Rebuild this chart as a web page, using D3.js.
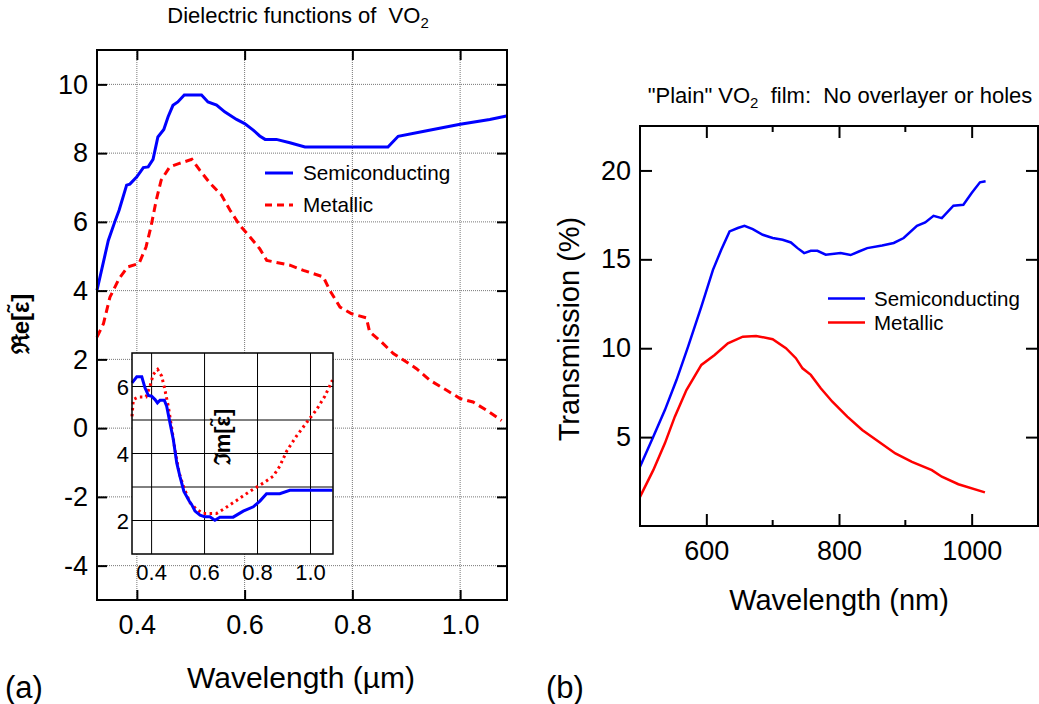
<!DOCTYPE html>
<html>
<head>
<meta charset="utf-8">
<script src="https://cdn.jsdelivr.net/npm/d3@7"></script>
<style>
body { margin: 0; background: #fff; }
text { font-family: "Liberation Sans", Arial, Helvetica, sans-serif; fill: #000; }
</style>
</head>
<body>
<div id="chart"></div>
<script>
// Re[eps] – Halbleiter / Metall  (Wellenlänge in µm)
var reSemi = [[0.326,4.01],[0.347,5.46],[0.359,6.0],[0.367,6.34],[0.381,7.07],[0.387,7.1],[0.400,7.31],
  [0.412,7.58],[0.421,7.6],[0.430,7.82],[0.439,8.47],[0.450,8.69],[0.458,9.06],[0.467,9.39],[0.476,9.49],
  [0.488,9.69],[0.520,9.69],[0.532,9.49],[0.548,9.40],[0.563,9.2],[0.585,8.98],[0.600,8.86],[0.616,8.67],
  [0.628,8.5],[0.638,8.40],[0.659,8.40],[0.684,8.30],[0.712,8.18],[0.866,8.18],[0.885,8.49],[0.938,8.65],
  [1.000,8.84],[1.055,8.98],[1.086,9.08]];
var reMet = [[0.326,2.65],[0.338,3.04],[0.350,3.81],[0.367,4.35],[0.383,4.69],[0.404,4.79],[0.417,5.27],
  [0.426,5.85],[0.436,6.63],[0.445,7.21],[0.461,7.60],[0.479,7.70],[0.502,7.82],[0.517,7.50],[0.536,7.12],
  [0.557,6.78],[0.573,6.34],[0.591,5.90],[0.610,5.56],[0.628,5.22],[0.641,4.88],[0.684,4.74],[0.709,4.59],
  [0.746,4.40],[0.758,4.01],[0.777,3.52],[0.798,3.33],[0.826,3.21],[0.832,2.80],[0.851,2.55],[0.876,2.17],
  [0.894,1.99],[0.919,1.73],[0.944,1.39],[0.975,1.10],[1.000,0.86],[1.024,0.76],[1.049,0.52],[1.077,0.22]];

// Im[eps] fuer das Inset
var imSemi = [[0.326,6.11],[0.344,6.29],[0.363,6.29],[0.375,5.96],[0.388,5.73],[0.400,5.71],[0.413,5.61],
  [0.422,5.51],[0.432,5.59],[0.448,5.59],[0.457,5.41],[0.467,5.01],[0.482,4.42],[0.495,3.72],[0.507,3.32],
  [0.522,2.87],[0.542,2.58],[0.551,2.48],[0.564,2.28],[0.583,2.16],[0.601,2.11],[0.620,2.11],[0.639,2.01],
  [0.658,2.10],[0.708,2.10],[0.746,2.28],[0.784,2.41],[0.809,2.58],[0.834,2.80],[0.884,2.80],[0.922,2.90],
  [1.083,2.90]];
var imMet = [[0.326,5.11],[0.331,5.61],[0.350,5.69],[0.379,5.69],[0.394,6.01],[0.406,6.36],[0.423,6.51],
  [0.438,6.31],[0.450,5.91],[0.463,5.41],[0.475,4.81],[0.488,4.12],[0.504,3.42],[0.522,2.98],[0.545,2.53],
  [0.570,2.33],[0.595,2.21],[0.645,2.21],[0.670,2.33],[0.721,2.60],[0.771,2.87],[0.822,3.12],[0.859,3.32],
  [0.884,3.62],[0.910,4.07],[0.947,4.52],[0.985,4.92],[1.023,5.31],[1.054,5.71],[1.083,6.19]];

// Transmission (%) ueber Wellenlaenge (nm)
var trSemi = [[500,3.33],[520,5.02],[537.5,6.52],[555,8.21],[572.5,10.09],[592.5,12.34],[610,14.41],
  [622.5,15.54],[635,16.57],[647.5,16.76],[657.5,16.89],[670,16.70],[685,16.38],[700,16.20],[715,16.10],
  [727.5,15.95],[737.5,15.63],[747.5,15.35],[757.5,15.48],[767.5,15.48],[780,15.26],[802.5,15.35],
  [817.5,15.24],[830,15.44],[842.5,15.63],[865,15.78],[882.5,15.92],[897.5,16.20],[917.5,16.89],
  [930,17.08],[942.5,17.45],[955,17.32],[972.5,18.02],[987.5,18.07],[1000,18.73],[1012.5,19.33],[1021,19.39]];
var trMet = [[500,1.64],[520,3.14],[537.5,4.65],[552.5,6.15],[570,7.65],[592.5,9.06],[612.5,9.62],
  [632.5,10.28],[655,10.65],[675,10.69],[700,10.51],[720,10.00],[735,9.44],[745,8.87],[757.5,8.50],
  [772.5,7.75],[790,6.99],[812.5,6.15],[835,5.40],[860,4.74],[885,4.08],[910,3.61],[940,3.14],
  [955,2.77],[980,2.35],[1020,1.89]];

var aTicksX = [0.4, 0.6, 0.8, 1.0];
var aTicksY = [-4, -2, 0, 2, 4, 6, 8, 10];
var inTicksY = [2, 4, 6];
var inGridY = [2, 3, 4, 5, 6];
var bTicksX = [600, 800, 1000];
var bMinorX = [700, 900];
var bTicksY = [5, 10, 15, 20];
var legendNames = ["Semiconducting", "Metallic"];

var svg = d3.select("#chart")
    .append("svg")
    .attr("width", 1039)
    .attr("height", 704);

var blue = "#0000ff", red = "#ff0000";

//Achsen mit Ticks nach innen
function axes(g, x, y, tx, ty, fmtX, fmtY, fs, len, pad) {
    var x0 = x.range()[0], x1 = x.range()[1], y0 = y.range()[0], y1 = y.range()[1];
    g.append("g").attr("transform", "translate(0," + y0 + ")")
        .call(d3.axisBottom(x).tickValues(tx).tickSize(-len).tickSizeOuter(0).tickPadding(pad).tickFormat(fmtX));
    g.append("g").attr("transform", "translate(0," + y1 + ")")
        .call(d3.axisTop(x).tickValues(tx).tickSize(-len).tickSizeOuter(0).tickFormat(""));
    g.append("g").attr("transform", "translate(" + x0 + ",0)")
        .call(d3.axisLeft(y).tickValues(ty).tickSize(-len).tickSizeOuter(0).tickPadding(pad - 6).tickFormat(fmtY));
    g.append("g").attr("transform", "translate(" + x1 + ",0)")
        .call(d3.axisRight(y).tickValues(ty).tickSize(-len).tickSizeOuter(0).tickFormat(""));
    g.selectAll(".domain").remove();
    g.selectAll(".tick line").attr("stroke", "#000").attr("stroke-width", 2);
    g.selectAll(".tick text").attr("font-size", fs).attr("font-family", "Liberation Sans, Arial, sans-serif");
    g.append("rect").attr("x", x0).attr("y", y1).attr("width", x1 - x0).attr("height", y0 - y1)
        .attr("fill", "none").attr("stroke", "#000").attr("stroke-width", 2);
}

// ---------- Panel (a) ----------
var xa = d3.scaleLinear().domain([0.326, 1.087]).range([97, 507]);
var ya = d3.scaleLinear().domain([-5, 11]).range([600, 50]);
var gA = svg.append("g");

gA.selectAll(".gx").data(aTicksX).enter().append("line")
    .attr("x1", function(d) { return xa(d); }).attr("x2", function(d) { return xa(d); })
    .attr("y1", 50).attr("y2", 600)
    .attr("stroke", "#777").attr("stroke-width", 1).attr("stroke-dasharray", "1,1");
gA.selectAll(".gy").data(aTicksY).enter().append("line")
    .attr("y1", function(d) { return ya(d); }).attr("y2", function(d) { return ya(d); })
    .attr("x1", 97).attr("x2", 507)
    .attr("stroke", "#777").attr("stroke-width", 1).attr("stroke-dasharray", "1,1");

var lineA = d3.line().x(function(d) { return xa(d[0]); }).y(function(d) { return ya(d[1]); });
gA.append("path").datum(reSemi).attr("d", lineA).attr("fill", "none")
    .attr("stroke", blue).attr("stroke-width", 3);
gA.append("path").datum(reMet).attr("d", lineA).attr("fill", "none")
    .attr("stroke", red).attr("stroke-width", 3).attr("stroke-dasharray", "8,5");

axes(gA, xa, ya, aTicksX, aTicksY, d3.format(".1f"), function(d) { return String(d); }, 27, 10, 15);

// Legende (a)
var legA = gA.selectAll(".legA").data(legendNames).enter().append("g")
    .attr("transform", function(d, i) { return "translate(265," + (173 + i * 32) + ")"; });
legA.append("line").attr("x1", 0).attr("x2", 28)
    .attr("stroke", function(d, i) { return i ? red : blue; })
    .attr("stroke-width", 3)
    .attr("stroke-dasharray", function(d, i) { return i ? "7,5" : null; });
legA.append("text").attr("x", 38).attr("y", 7).attr("font-size", 20.7).text(function(d) { return d; });

// Inset Im[eps]
var xi = d3.scaleLinear().domain([0.326, 1.085]).range([132, 333]);
var yi = d3.scaleLinear().domain([1, 7]).range([554, 353]);
var gI = svg.append("g");
gI.append("rect").attr("x", 132).attr("y", 353).attr("width", 201).attr("height", 201).attr("fill", "#fff");
gI.selectAll(".ix").data(aTicksX).enter().append("line")
    .attr("x1", function(d) { return xi(d); }).attr("x2", function(d) { return xi(d); })
    .attr("y1", 353).attr("y2", 554).attr("stroke", "#000").attr("stroke-width", 1);
gI.selectAll(".iy").data(inGridY).enter().append("line")
    .attr("y1", function(d) { return yi(d); }).attr("y2", function(d) { return yi(d); })
    .attr("x1", 132).attr("x2", 333).attr("stroke", "#000").attr("stroke-width", 1);
var lineI = d3.line().x(function(d) { return xi(d[0]); }).y(function(d) { return yi(d[1]); });
gI.append("path").datum(imMet).attr("d", lineI).attr("fill", "none")
    .attr("stroke", red).attr("stroke-width", 3).attr("stroke-dasharray", "2.5,3.5");
gI.append("path").datum(imSemi).attr("d", lineI).attr("fill", "none")
    .attr("stroke", blue).attr("stroke-width", 3);
gI.append("rect").attr("x", 132).attr("y", 353).attr("width", 201).attr("height", 201)
    .attr("fill", "none").attr("stroke", "#000").attr("stroke-width", 1.5);
gI.selectAll(".itx").data(aTicksX).enter().append("text")
    .attr("x", function(d) { return xi(d); }).attr("y", 580).attr("text-anchor", "middle")
    .attr("font-size", 22).text(d3.format(".1f"));
gI.selectAll(".ity").data(inTicksY).enter().append("text")
    .attr("x", 129).attr("y", function(d) { return yi(d) + 8; }).attr("text-anchor", "end")
    .attr("font-size", 22).text(function(d) { return d; });
gI.append("text").attr("transform", "translate(230,437) rotate(-90)")
    .attr("text-anchor", "middle").attr("font-family", "DejaVu Serif, serif").attr("font-weight", "bold")
    .attr("font-size", 22).text("\u2111m[\u03b5\u0303]");

// Beschriftungen (a)
svg.append("text").attr("x", 298).attr("y", 23).attr("text-anchor", "middle").attr("font-size", 22)
    .style("white-space", "pre")
    .text("Dielectric functions of  VO")
    .append("tspan").attr("font-size", 15).attr("dy", 5).text("2");
svg.append("text").attr("transform", "translate(29,324) rotate(-90)")
    .attr("text-anchor", "middle").attr("font-family", "DejaVu Serif, serif").attr("font-weight", "bold")
    .attr("font-size", 24).text("\u211ce[\u03b5\u0303]");
svg.append("text").attr("x", 301).attr("y", 688).attr("text-anchor", "middle").attr("font-size", 30)
    .text("Wavelength (\u00b5m)");
svg.append("text").attr("x", 5).attr("y", 698).attr("font-size", 31).text("(a)");

// ---------- Panel (b) ----------
var xb = d3.scaleLinear().domain([500, 1100]).range([640, 1038]);
var yb = d3.scaleLinear().domain([0, 22.5]).range([526, 126]);
var gB = svg.append("g");

var lineB = d3.line().x(function(d) { return xb(d[0]); }).y(function(d) { return yb(d[1]); });
gB.append("path").datum(trSemi).attr("d", lineB).attr("fill", "none")
    .attr("stroke", blue).attr("stroke-width", 2.5);
gB.append("path").datum(trMet).attr("d", lineB).attr("fill", "none")
    .attr("stroke", red).attr("stroke-width", 2.5);

axes(gB, xb, yb, bTicksX, bTicksY, function(d) { return String(d); }, function(d) { return String(d); }, 27, 12, 15);
// kleine Ticks bei 700 und 900
gB.selectAll(".mb").data(bMinorX).enter().append("line")
    .attr("x1", function(d) { return xb(d); }).attr("x2", function(d) { return xb(d); })
    .attr("y1", 526).attr("y2", 520).attr("stroke", "#000").attr("stroke-width", 2);
gB.selectAll(".mt").data(bMinorX).enter().append("line")
    .attr("x1", function(d) { return xb(d); }).attr("x2", function(d) { return xb(d); })
    .attr("y1", 126).attr("y2", 132).attr("stroke", "#000").attr("stroke-width", 2);

// Legende (b)
var legB = gB.selectAll(".legB").data(legendNames).enter().append("g")
    .attr("transform", function(d, i) { return "translate(828," + (298.5 + i * 24) + ")"; });
legB.append("line").attr("x1", 0).attr("x2", 37)
    .attr("stroke", function(d, i) { return i ? red : blue; }).attr("stroke-width", 2.5);
legB.append("text").attr("x", 46).attr("y", 7).attr("font-size", 20.5).text(function(d) { return d; });

var titleB = svg.append("text").attr("x", 840).attr("y", 103).attr("text-anchor", "middle")
    .attr("font-size", 22).style("white-space", "pre");
titleB.append("tspan").text("\"Plain\" VO");
titleB.append("tspan").attr("font-size", 15).attr("dy", 5).text("2");
titleB.append("tspan").attr("dy", -5).text("  film:  No overlayer or holes");

svg.append("text").attr("x", 569).attr("y", 329).attr("transform", "rotate(-90,569,329)")
    .attr("text-anchor", "middle").attr("dy", 10).attr("font-size", 29).text("Transmission (%)");
svg.append("text").attr("x", 839).attr("y", 610).attr("text-anchor", "middle").attr("font-size", 29)
    .text("Wavelength (nm)");
svg.append("text").attr("x", 546).attr("y", 698).attr("font-size", 31).text("(b)");
</script>
</body>
</html>
